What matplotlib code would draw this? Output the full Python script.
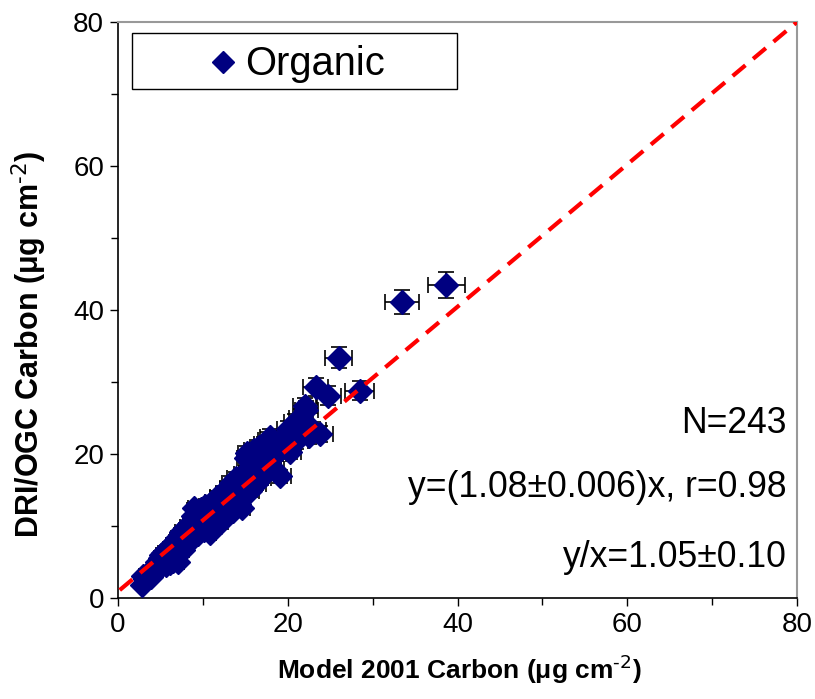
#coding:utf-8
import matplotlib
matplotlib.use('Agg')
import matplotlib.pyplot as plt
from matplotlib.patches import Rectangle
from matplotlib.ticker import MultipleLocator

plt.rcParams['font.family'] = ['Liberation Sans', 'DejaVu Sans']

# model 2001 carbon (x) vs DRI/OGC carbon (y), ug cm-2
model_c = [2.8, 3.0, 3.2, 3.5, 3.9, 4.0, 4.1, 4.4, 4.6, 4.8,
           5.0, 5.1, 5.2, 5.3, 5.5, 5.7, 5.9, 6.0, 6.1, 6.2,
           6.3, 6.5, 6.6, 6.8, 6.9, 7.0, 7.1, 7.2, 7.4, 7.5,
           7.6, 7.7, 7.9, 8.0, 8.2, 8.3, 8.4, 8.5, 8.6, 8.8,
           8.9, 9.0, 9.1, 9.2, 9.4, 9.5, 9.7, 9.8, 9.9, 10.0,
           10.1, 10.3, 10.4, 10.5, 10.6, 10.8, 10.9, 11.0, 11.1, 11.2,
           11.4, 11.5, 11.6, 11.7, 11.8, 12.0, 12.1, 12.2, 12.3, 12.4,
           12.6, 12.7, 12.9, 13.0, 13.1, 13.2, 13.3, 13.5, 13.6, 13.8,
           13.9, 14.0, 14.1, 14.2, 14.4, 14.5, 14.6, 14.7, 14.8, 15.0,
           15.1, 15.2, 15.3, 15.4, 15.5, 15.7, 15.8, 16.0, 16.1, 16.2,
           16.3, 16.4, 16.6, 16.7, 16.9, 17.0, 17.1, 17.2, 17.4, 17.5,
           17.7, 17.9, 18.0, 18.1, 18.2, 18.4, 18.6, 19.1, 19.5, 19.8,
           20.0, 20.3, 20.5, 20.8, 21.0, 21.3, 21.6, 22.0, 22.2, 22.5,
           23.0, 23.3, 23.8, 24.8, 26.0, 28.5, 33.5, 38.7]
dri_c = [1.8, 3.1, 2.6, 3.4, 2.9, 3.3, 4.2, 3.6, 5.0, 4.3,
         5.6, 6.0, 4.8, 6.2, 5.3, 4.6, 6.8, 5.9, 4.8, 7.3,
         6.4, 5.2, 7.8, 6.9, 8.0, 8.4, 5.0, 7.4, 9.1, 8.0,
         8.7, 6.6, 8.8, 9.8, 7.6, 9.3, 8.0, 10.4, 8.5, 11.4,
         12.5, 9.7, 11.0, 10.8, 8.9, 11.6, 10.2, 12.3, 10.6, 11.0,
         9.4, 12.8, 11.5, 12.2, 10.3, 9.0, 12.0, 10.9, 13.3, 11.2,
         10.0, 12.6, 12.9, 14.0, 11.8, 13.1, 10.6, 13.7, 12.4, 14.6,
         13.5, 11.5, 15.3, 12.8, 13.9, 14.2, 16.0, 13.6, 12.1, 15.0,
         16.6, 15.9, 14.4, 13.0, 15.7, 14.3, 12.5, 17.2, 15.0, 16.3,
         19.4, 20.1, 15.7, 17.8, 14.8, 16.9, 18.6, 20.5, 17.4, 18.4,
         15.9, 19.2, 21.0, 18.1, 16.6, 19.8, 17.5, 21.4, 18.7, 20.6,
         22.0, 22.4, 19.3, 20.6, 21.2, 17.9, 20.0, 16.9, 22.3, 21.0,
         23.5, 20.3, 22.6, 24.4, 21.8, 23.3, 25.0, 26.6, 26.1, 22.5,
         23.3, 29.3, 22.8, 28.1, 33.4, 28.8, 41.1, 43.5]
model_err = [0.4, 0.5, 0.5, 0.5, 0.5, 0.5, 0.5, 0.5, 0.5, 0.5,
             0.6, 0.6, 0.6, 0.6, 0.6, 0.6, 0.6, 0.6, 0.6, 0.6,
             0.6, 0.6, 0.6, 0.6, 0.6, 0.7, 0.7, 0.7, 0.7, 0.7,
             0.7, 0.7, 0.7, 0.7, 0.7, 0.7, 0.7, 0.7, 0.7, 0.7,
             0.7, 0.8, 0.8, 0.8, 0.8, 0.8, 0.8, 0.8, 0.8, 0.8,
             0.8, 0.8, 0.8, 0.8, 0.8, 0.8, 0.8, 0.9, 0.9, 0.9,
             0.9, 0.9, 0.9, 0.9, 0.9, 0.9, 0.9, 0.9, 0.9, 0.9,
             0.9, 0.9, 0.9, 1.0, 1.0, 1.0, 1.0, 1.0, 1.0, 1.0,
             1.0, 1.0, 1.0, 1.0, 1.0, 1.0, 1.0, 1.0, 1.0, 1.0,
             1.1, 1.1, 1.1, 1.1, 1.1, 1.1, 1.1, 1.1, 1.1, 1.1,
             1.1, 1.1, 1.1, 1.1, 1.1, 1.2, 1.2, 1.2, 1.2, 1.2,
             1.2, 1.2, 1.2, 1.2, 1.2, 1.2, 1.2, 1.3, 1.3, 1.3,
             1.3, 1.3, 1.3, 1.3, 1.4, 1.4, 1.4, 1.4, 1.4, 1.4,
             1.5, 1.5, 1.5, 1.5, 1.6, 1.7, 2.0, 2.2]
dri_err = [0.4, 0.4, 0.4, 0.4, 0.4, 0.4, 0.4, 0.4, 0.4, 0.4,
           0.5, 0.5, 0.5, 0.5, 0.5, 0.5, 0.5, 0.5, 0.5, 0.5,
           0.5, 0.5, 0.6, 0.5, 0.6, 0.6, 0.5, 0.6, 0.6, 0.6,
           0.6, 0.5, 0.6, 0.6, 0.6, 0.6, 0.6, 0.7, 0.6, 0.7,
           0.7, 0.6, 0.7, 0.7, 0.6, 0.7, 0.7, 0.7, 0.7, 0.7,
           0.6, 0.7, 0.7, 0.7, 0.7, 0.6, 0.7, 0.7, 0.8, 0.7,
           0.7, 0.7, 0.8, 0.8, 0.7, 0.8, 0.7, 0.8, 0.7, 0.8,
           0.8, 0.7, 0.8, 0.7, 0.8, 0.8, 0.9, 0.8, 0.7, 0.8,
           0.9, 0.9, 0.8, 0.8, 0.9, 0.8, 0.7, 0.9, 0.8, 0.9,
           1.0, 1.0, 0.9, 0.9, 0.8, 0.9, 1.0, 1.0, 0.9, 1.0,
           0.9, 1.0, 1.0, 0.9, 0.9, 1.0, 0.9, 1.0, 1.0, 1.0,
           1.1, 1.1, 1.0, 1.0, 1.0, 0.9, 1.0, 0.9, 1.1, 1.0,
           1.1, 1.0, 1.1, 1.2, 1.1, 1.1, 1.2, 1.2, 1.2, 1.1,
           1.1, 1.3, 1.1, 1.3, 1.5, 1.3, 1.7, 1.8]

# dashed reference line
line_x = [0.2, 80]
line_y = [1.1, 80]

stats_text = ['N=243', u'y=(1.08\u00b10.006)x, r=0.98', u'y/x=1.05\u00b10.10']

fig = plt.figure(figsize=(8.15, 6.99), dpi=100)
ax = fig.add_axes([0.1448, 0.1445, 0.8331, 0.824])

ax.errorbar(model_c, dri_c, xerr=model_err, yerr=dri_err, fmt='none',
            ecolor='black', elinewidth=1.2, capsize=6, capthick=1.2, zorder=2)
ax.plot(model_c, dri_c, 'D', color='#000080', ms=12, mec='#000080', zorder=3)
ax.plot(line_x, line_y, color='#ff0000', lw=3, dashes=(4, 2.4), zorder=4)

ax.set_xlim(0, 80)
ax.set_ylim(0, 80)
ax.xaxis.set_major_locator(MultipleLocator(20))
ax.xaxis.set_minor_locator(MultipleLocator(10))
ax.yaxis.set_major_locator(MultipleLocator(20))
ax.yaxis.set_minor_locator(MultipleLocator(10))
ax.tick_params(which='major', direction='out', length=6, width=1.0, labelsize=20, pad=4)
ax.tick_params(which='minor', direction='out', length=5, width=1.0)

for s in ['left', 'bottom']:
    ax.spines[s].set_color('black')
    ax.spines[s].set_linewidth(1.2)
for s in ['top', 'right']:
    ax.spines[s].set_color('#999999')
    ax.spines[s].set_linewidth(1.5)

ax.set_xlabel(r'Model 2001 Carbon ($\mathregular{\mu}$g cm$^{\text{-2}}$)',
              fontsize=19, fontweight='bold', va='top')
ax.xaxis.set_label_coords(0.502, -0.095)
ax.set_ylabel(r'DRI/OGC Carbon ($\mathregular{\mu}$g cm$^{\text{-2}}$)',
              fontsize=22, fontweight='bold')
ax.yaxis.set_label_coords(-0.102, 0.44)

# legend box drawn by hand (wide box, centred entry)
ax.add_patch(Rectangle((0.0206, 0.8837), 0.4787, 0.0973, transform=ax.transAxes,
                       facecolor='white', edgecolor='black', lw=1.0, zorder=5))
ax.plot([0.154], [0.931], 'D', color='#000080', ms=11, transform=ax.transAxes,
        zorder=6, clip_on=False)
ax.text(0.187, 0.908, 'Organic', fontsize=28.7, va='baseline', ha='left',
        transform=ax.transAxes, zorder=6)

for txt, yb in zip(stats_text, [0.2865, 0.176, 0.054]):
    ax.text(0.985, yb, txt, fontsize=25.6, ha='right', va='baseline',
            transform=ax.transAxes, zorder=6)

plt.savefig('out.png', dpi=100)
